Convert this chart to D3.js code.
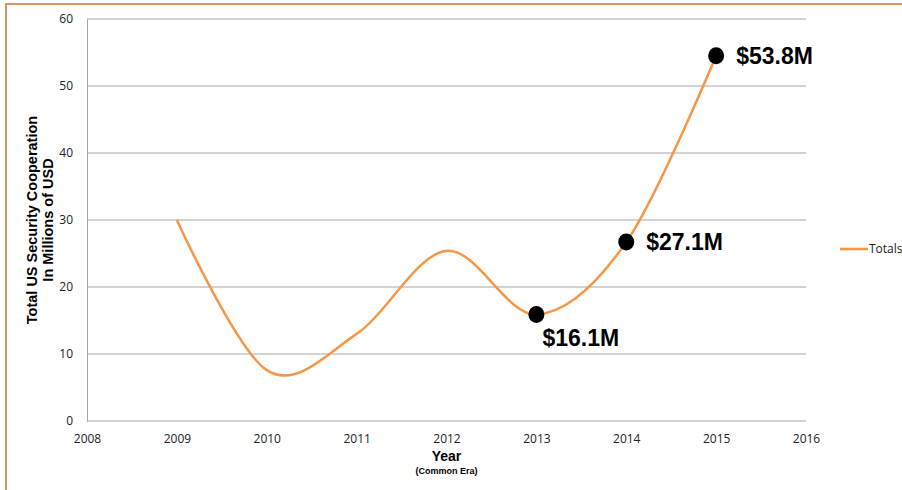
<!DOCTYPE html>
<html>
<head>
<meta charset="utf-8">
<script src="https://cdn.jsdelivr.net/npm/d3@7"></script>
<style>
  body { margin: 0; background: #fff; }
  svg { display: block; }
  .tick text { font-family: "Open Sans", "Liberation Sans", sans-serif; font-size: 12px; fill: #222; }
</style>
</head>
<body>
<div id="chart"></div>
<script>
const years = [2009, 2010, 2011, 2012, 2013, 2014, 2015];
const totals = [30, 7.6, 13, 25.4, 15.9, 26.7, 54.5];
const markedYears = [2013, 2014, 2015];
const markedLabels = ["$16.1M", "$27.1M", "$53.8M"];
const yTicks = [0, 10, 20, 30, 40, 50, 60];
const xTicks = [2008, 2009, 2010, 2011, 2012, 2013, 2014, 2015, 2016];

const W = 902, H = 490;
const margin = { top: 19, right: 96, bottom: 69, left: 87 };
const width = W - margin.left - margin.right;
const height = H - margin.top - margin.bottom;

const svg = d3.select("#chart").append("svg")
    .attr("width", W)
    .attr("height", H);

// outer frame
svg.append("rect")
    .attr("x", 6).attr("y", 4)
    .attr("width", W + 20).attr("height", H + 20)
    .attr("fill", "none")
    .attr("stroke", "#c8742f")
    .attr("stroke-width", 1.5);

const g = svg.append("g")
    .attr("transform", `translate(${margin.left},${margin.top})`);

const x = d3.scaleLinear().domain([2008, 2016]).range([0, width]);
const y = d3.scaleLinear().domain([0, 60]).range([height, 0]);

// gridlines
g.append("g")
    .selectAll("line")
    .data(yTicks)
    .join("line")
    .attr("x1", 0).attr("x2", width)
    .attr("y1", d => y(d)).attr("y2", d => y(d))
    .attr("stroke", "#a6a6a6")
    .attr("stroke-width", 1);

g.append("g")
    .call(d3.axisLeft(y).tickValues(yTicks).tickSize(0).tickPadding(14))
    .call(a => a.select(".domain").attr("stroke", "#a6a6a6"));

g.append("g")
    .attr("transform", `translate(0,${height})`)
    .call(d3.axisBottom(x).tickValues(xTicks).tickFormat(d3.format("d")).tickSize(0).tickPadding(13))
    .call(a => a.select(".domain").remove());

// series line
const line = d3.line()
    .x((d, i) => x(years[i]))
    .y(d => y(d))
    .curve(d3.curveCardinal.tension(0));

g.append("path")
    .datum(totals)
    .attr("fill", "none")
    .attr("stroke", "#f79646")
    .attr("stroke-width", 2.5)
    .attr("d", line);

// marked points
const marks = markedYears.map((yr, i) => ({ year: yr, value: totals[years.indexOf(yr)], label: markedLabels[i] }));

g.selectAll(".dot")
    .data(marks)
    .join("ellipse")
    .attr("class", "dot")
    .attr("cx", d => x(d.year))
    .attr("cy", d => y(d.value))
    .attr("rx", 8)
    .attr("ry", 8.5)
    .attr("fill", "#000");

const labelOffsets = [[6, 32], [20, 8], [20, 8]];
g.selectAll(".val")
    .data(marks)
    .join("text")
    .attr("class", "val")
    .attr("x", (d, i) => x(d.year) + labelOffsets[i][0])
    .attr("y", (d, i) => y(d.value) + labelOffsets[i][1])
    .attr("font-family", "Liberation Sans, Arial, sans-serif")
    .attr("font-weight", "bold")
    .attr("font-size", 23)
    .attr("fill", "#000")
    .text(d => d.label);

// axis titles
const yTitle = svg.append("text")
    .attr("transform", `translate(39,220) rotate(-90)`)
    .attr("text-anchor", "middle")
    .attr("font-family", "Liberation Sans, Arial, sans-serif")
    .attr("font-weight", "bold")
    .attr("font-size", 14.5)
    .attr("fill", "#000");
yTitle.append("tspan").attr("x", 0).attr("dy", "-0.15em").text("Total US Security Cooperation");
yTitle.append("tspan").attr("x", 0).attr("dy", "1.1em").text("In Millions of USD");

svg.append("text")
    .attr("x", margin.left + x(2012))
    .attr("y", 461)
    .attr("text-anchor", "middle")
    .attr("font-family", "Liberation Sans, Arial, sans-serif")
    .attr("font-weight", "bold")
    .attr("font-size", 14)
    .text("Year");

svg.append("text")
    .attr("x", margin.left + x(2012))
    .attr("y", 474)
    .attr("text-anchor", "middle")
    .attr("font-family", "Liberation Sans, Arial, sans-serif")
    .attr("font-weight", "bold")
    .attr("font-size", 9)
    .text("(Common Era)");

// legend
const legend = svg.append("g").attr("transform", "translate(840,249)");
legend.append("line")
    .attr("x1", 0).attr("x2", 28)
    .attr("stroke", "#f79646")
    .attr("stroke-width", 2.5);
legend.append("text")
    .attr("x", 29).attr("dy", "0.35em")
    .attr("font-family", "Open Sans, Liberation Sans, sans-serif")
    .attr("font-size", 12)
    .attr("fill", "#222")
    .text("Totals");
</script>
</body>
</html>
